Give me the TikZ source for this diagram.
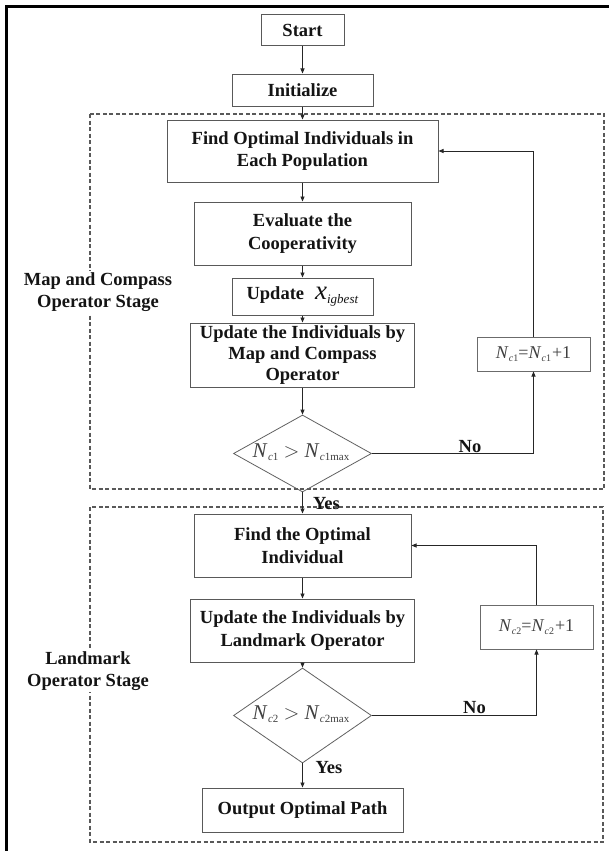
\documentclass[tikz,border=0pt]{standalone}
\usepackage{fontspec}
\setmainfont{Liberation Serif}
\usetikzlibrary{arrows.meta,shapes.geometric,calc}
\newcommand{\Nsub}[2][10]{\textit{N}\kern0.3pt\raisebox{-3.2pt}{\fontsize{#1}{#1}\selectfont #2}}
\tikzset{
  box/.style={draw=black!65, line width=1pt, fill=white, inner sep=0pt, align=center,
    font=\fontsize{18.5}{22.5}\selectfont\bfseries, text=black!92},
  mbox/.style={draw=black!58, line width=1pt, fill=white, inner sep=0pt, align=center,
    font=\fontsize{18}{20}\selectfont, text=black!75},
  dia/.style={diamond, draw=black!62, line width=0.8pt, inner sep=0pt},
  arr/.style={draw=black!85, line width=0.8pt, -{Triangle[length=5pt,width=4pt]}},
  dbox/.style={draw=black!65, line width=1.2pt, dash pattern=on 4pt off 2.5pt},
  lab/.style={font=\fontsize{18.5}{22.5}\selectfont\bfseries, text=black!92, inner sep=0pt},
  stage/.style={font=\fontsize{18.5}{22.5}\selectfont\bfseries, text=black!92, align=center,
    fill=white, inner sep=1.5pt}
}
\begin{document}
\begin{tikzpicture}[x=1pt,y=-1pt]
\useasboundingbox (0,0) rectangle (609,851);
\fill[white] (0,0) rectangle (609,851);
% outer frame (top and left only)
\draw[line width=3pt] (6.5,851) -- (6.5,6.5) -- (609,6.5);
% stage frames
\draw[dbox] (90,114) rectangle (604,489);
\draw[dbox] (90,507) rectangle (603,842);

% stage labels
\node[stage] (st1) at (98,292) {Map and Compass\\Operator Stage};
\node[stage] (st2) at (88,671) {Landmark\\Operator Stage};

% main column
\node[box, minimum width=83pt, minimum height=31pt] (start) at (302.5,30.5) {Start};
\node[box, minimum width=141pt, minimum height=32pt] (init) at (302.5,90) {Initialize};
\node[box, minimum width=271pt, minimum height=62pt] (find1) at (302.5,151) {Find Optimal Individuals in\\Each Population};
\node[box, minimum width=217pt, minimum height=63pt] (eval) at (302.5,233.5) {Evaluate the\\Cooperativity};
\node[box, minimum width=141pt, minimum height=37pt] (upx) at (302.5,296.5) {Update\hspace{11pt}{\mdseries{\fontsize{27}{27}\selectfont\textit{x}}\raisebox{-4.5pt}{\fontsize{13}{13}\selectfont\textit{igbest}}}};
\node[box, minimum width=224pt, minimum height=64pt, font=\fontsize{18.5}{21}\selectfont\bfseries] (upmap) at (302.5,355) {Update the Individuals by\\Map and Compass\\Operator};
\node[dia, minimum width=138pt, minimum height=77pt] (d1) at (302.5,453.5) {};
\node[text=black!75, inner sep=0pt, font=\fontsize{21}{21}\selectfont] (d1t) at (301,452) {\Nsub[11]{\textit{c}1}\ \ensuremath{>}\ \Nsub[11]{\textit{c}1max}};
\node[mbox, minimum width=113pt, minimum height=34pt] (nc1) at (533.5,354) {\Nsub{\textit{c}1}=\Nsub{\textit{c}1}\kern1pt+1};

\node[box, minimum width=217pt, minimum height=63pt] (find2) at (302.5,545.5) {Find the Optimal\\Individual};
\node[box, minimum width=224pt, minimum height=63pt] (upland) at (302.5,630.5) {Update the Individuals by\\Landmark Operator};
\node[dia, minimum width=138pt, minimum height=95pt] (d2) at (302.5,715.5) {};
\node[text=black!75, inner sep=0pt, font=\fontsize{21}{21}\selectfont] (d2t) at (301,714) {\Nsub[11]{\textit{c}2}\ \ensuremath{>}\ \Nsub[11]{\textit{c}2max}};
\node[mbox, minimum width=113pt, minimum height=44pt] (nc2) at (536.5,627) {\Nsub{\textit{c}2}=\Nsub{\textit{c}2}\kern1pt+1};
\node[box, minimum width=201pt, minimum height=44pt] (out) at (302.5,810) {Output Optimal Path};

% labels on connectors
\node[lab, anchor=base] (no1) at (470,452) {No};
\node[lab, anchor=base] (yes1) at (326.5,509) {Yes};
\node[lab, anchor=base] (no2) at (474.5,713.5) {No};
\node[lab, anchor=base] (yes2) at (329,773) {Yes};

% connectors
\draw[arr] (start) -- (init);
\draw[arr] (init) -- (find1);
\draw[arr] (find1) -- (eval);
\draw[arr] (eval) -- (upx);
\draw[arr] (upx) -- (upmap);
\draw[arr] (upmap) -- (d1);
\draw[arr] (d1.east) -| (nc1);
\draw[arr] (nc1.north) |- (find1.east);
\draw[arr] (d1.south) -- (find2);
\draw[arr] (find2) -- (upland);
\draw[arr] (upland) -- (d2);
\draw[arr] (d2.south) -- (out);
\draw[arr] (d2.east) -| (nc2);
\draw[arr] (nc2.north) |- (find2.east);
\end{tikzpicture}
\end{document}
